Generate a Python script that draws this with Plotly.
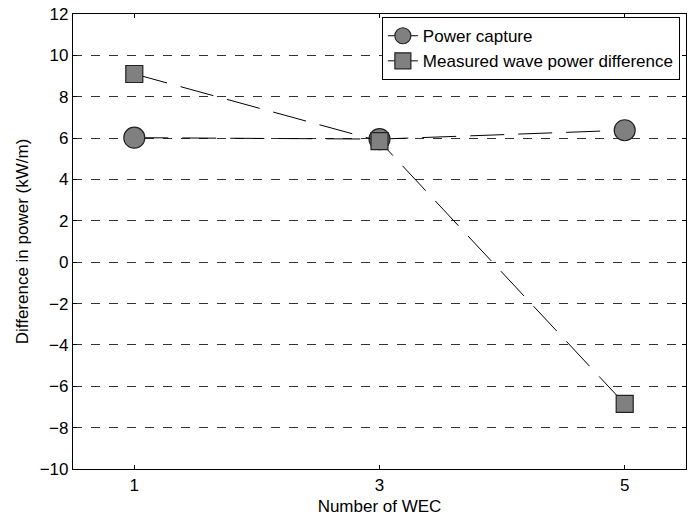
import plotly.graph_objects as go

# Number of wave energy converters
n_wec = [1, 3, 5]

# Difference in power (kW/m)
power_capture = [6.02, 5.95, 6.38]
measured_wave_diff = [9.1, 5.85, -6.85]

y_ticks = list(range(-10, 13, 2))

fig = go.Figure()

fig.add_trace(go.Scatter(
    x=n_wec, y=power_capture, name="Power capture",
    mode="lines+markers",
    line=dict(color="black", width=1, dash="34px,14px"),
    marker=dict(symbol="circle", size=21, color="#808080",
                line=dict(color="#222222", width=1.2)),
))
fig.add_trace(go.Scatter(
    x=n_wec, y=measured_wave_diff, name="Measured wave power difference",
    mode="lines+markers",
    line=dict(color="black", width=1, dash="34px,14px"),
    marker=dict(symbol="square", size=17, color="#808080",
                line=dict(color="#222222", width=1.2)),
))

axis_font = dict(family="Liberation Sans, Arial, sans-serif", size=17, color="black")

fig.update_layout(
    width=692, height=517,
    margin=dict(l=73, r=5, t=12, b=47),
    paper_bgcolor="white", plot_bgcolor="white",
    font=axis_font,
    showlegend=True,
    legend=dict(
        x=0.99, y=0.993, xanchor="right", yanchor="top",
        bgcolor="white", bordercolor="black", borderwidth=1,
        font=dict(family="Liberation Sans, Arial, sans-serif", size=17, color="black"),
        tracegroupgap=0, itemwidth=30,
    ),
    xaxis=dict(
        range=[0.5, 5.5], tickvals=n_wec, ticktext=[str(v) for v in n_wec],
        ticks="inside", ticklen=4, tickcolor="black",
        showline=True, linecolor="black", linewidth=1.2, mirror="ticks",
        showgrid=False, zeroline=False,
        title=dict(text="Number of WEC", standoff=6, font=axis_font),
        tickfont=axis_font,
    ),
    yaxis=dict(
        range=[-10, 12], tickvals=y_ticks,
        ticks="inside", ticklen=4, tickcolor="black",
        showline=True, linecolor="black", linewidth=1.2, mirror="ticks",
        showgrid=True, gridcolor="#333333", griddash="dash", gridwidth=1,
        zeroline=False,
        title=dict(text="Difference in power (kW/m)", standoff=6, font=axis_font),
        tickfont=axis_font,
    ),
)

fig.write_html("out.html")
